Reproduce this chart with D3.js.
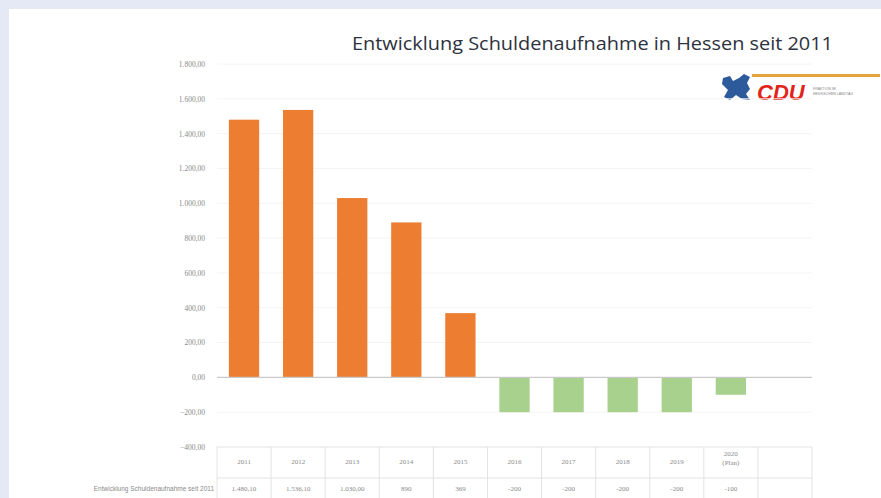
<!DOCTYPE html>
<html>
<head>
<meta charset="utf-8">
<script src="https://cdn.jsdelivr.net/npm/d3@7"></script>
<style>
  body { margin: 0; background: #e4e9f5; }
  svg { display: block; }
</style>
</head>
<body>
<div id="chart"></div>
<script>
// data
const years = ["2011", "2012", "2013", "2014", "2015", "2016", "2017", "2018", "2019", "2020 (Plan)", ""];
const values = [1480.10, 1536.10, 1030.00, 890, 369, -200, -200, -200, -200, -100, null];
const valueLabels = ["1.480,10", "1.536,10", "1.030,00", "890", "369", "-200", "-200", "-200", "-200", "-100", ""];
const yTicks = [-400, -200, 0, 200, 400, 600, 800, 1000, 1200, 1400, 1600, 1800];
const seriesName = "Entwicklung Schuldenaufnahme seit 2011";
const title = "Entwicklung Schuldenaufnahme in Hessen seit 2011";

const width = 881, height = 498;

const de = d3.formatLocale({decimal: ",", thousands: ".", grouping: [3], currency: ["", "€"]});
const fmt = de.format(",.2f");

const svg = d3.select("#chart").append("svg")
  .attr("width", width)
  .attr("height", height);

// white slide panel
svg.append("rect")
  .attr("x", 9).attr("y", 9)
  .attr("width", width - 9).attr("height", height - 9)
  .attr("fill", "#ffffff");

svg.append("text")
  .attr("x", 833).attr("y", 50)
  .attr("text-anchor", "end")
  .style("font-family", "Open Sans")
  .style("font-size", "18px")
  .attr("fill", "#2e3240")
  .attr("textLength", 481)
  .attr("lengthAdjust", "spacingAndGlyphs")
  .text(title);

// logo (rough)
const logo = svg.append("g").attr("transform", "translate(720,72)");
logo.append("rect").attr("x", 32).attr("y", 2).attr("width", 128).attr("height", 3).attr("fill", "#e9a23b");
logo.append("path")
  .attr("d", "M3,6 L10,4 L13,9 L19,6 L24,2 L30,5 L27,11 L30,17 L26,22 L30,28 L22,27 L16,23 L10,28 L4,25 L8,18 L2,12 Z")
  .attr("fill", "#2d5a9a");
logo.append("text")
  .attr("x", 37).attr("y", 28)
  .style("font-family", "Liberation Sans")
  .style("font-weight", "bold")
  .style("font-style", "italic")
  .style("font-size", "22px")
  .attr("fill", "#e2231a")
  .text("CDU");
logo.append("text").attr("x", 93).attr("y", 18)
  .style("font-family", "Liberation Sans").style("font-size", "3.5px").attr("fill", "#888")
  .text("FRAKTION IM");
logo.append("text").attr("x", 93).attr("y", 23)
  .style("font-family", "Liberation Sans").style("font-size", "3.5px").attr("fill", "#888")
  .text("HESSISCHEN LANDTAG");

const x = d3.scaleBand()
  .domain(years)
  .range([217, 812])
  .paddingInner(0.44)
  .paddingOuter(0.22);

const y = d3.scaleLinear()
  .domain([-400, 1800])
  .range([447, 64]);

// grid
svg.append("g")
  .selectAll("line")
  .data(yTicks.filter(t => t !== 0 && t !== -400))
  .join("line")
  .attr("x1", 217).attr("x2", 812)
  .attr("y1", d => y(d)).attr("y2", d => y(d))
  .attr("stroke", "#f4f4f4")
  .attr("stroke-width", 1);

// y axis labels
const yAxis = svg.append("g")
  .attr("transform", "translate(205,0)")
  .call(d3.axisLeft(y).tickValues(yTicks).tickFormat(fmt).tickSize(0).tickPadding(0));
yAxis.select(".domain").remove();
yAxis.selectAll("text")
  .style("font-family", "Liberation Serif")
  .style("font-size", "7.5px")
  .attr("fill", "#8a8a8a");

// bars
svg.append("g")
  .selectAll("rect")
  .data(years.map((yr, i) => ({yr, v: values[i]})).filter(d => d.v !== null))
  .join("rect")
  .attr("x", d => x(d.yr))
  .attr("width", x.bandwidth())
  .attr("y", d => y(Math.max(0, d.v)))
  .attr("height", d => Math.abs(y(d.v) - y(0)))
  .attr("fill", d => d.v >= 0 ? "#ed7d31" : "#a9d18e");

// zero line
svg.append("line")
  .attr("x1", 217).attr("x2", 812)
  .attr("y1", y(0)).attr("y2", y(0))
  .attr("stroke", "#c9c9c9")
  .attr("stroke-width", 1.2);

// data table
const tTop = y(-400), tMid = 478, tBot = height;
const step = x.step();
const colX = years.map(d => x(d) - x.paddingInner() * step / 2);
const table = svg.append("g");
table.append("line").attr("x1", 217).attr("x2", 812).attr("y1", tTop).attr("y2", tTop).attr("stroke", "#e3e3e3");
table.append("line").attr("x1", 217).attr("x2", 812).attr("y1", tMid).attr("y2", tMid).attr("stroke", "#e3e3e3");
table.selectAll("line.v")
  .data(colX.concat([colX[colX.length - 1] + step]))
  .join("line")
  .attr("class", "v")
  .attr("x1", d => d).attr("x2", d => d)
  .attr("y1", tTop).attr("y2", tBot)
  .attr("stroke", "#e3e3e3");

const cellFont = s => s.style("font-family", "Liberation Serif").style("font-size", "7px").attr("fill", "#8a8a8a").attr("text-anchor", "middle");

table.selectAll("text.yr")
  .data(years)
  .join("text")
  .attr("class", "yr")
  .attr("x", d => x(d) + x.bandwidth() / 2)
  .attr("y", d => d.includes("(") ? 456 : 464)
  .call(cellFont)
  .each(function(d) {
    const parts = d.split(" ");
    d3.select(this).selectAll("tspan").data(parts).join("tspan")
      .attr("x", d3.select(this).attr("x"))
      .attr("dy", (p, i) => i === 0 ? 0 : 9)
      .text(p => p);
  });

table.selectAll("text.val")
  .data(valueLabels)
  .join("text")
  .attr("class", "val")
  .attr("x", (d, i) => x(years[i]) + x.bandwidth() / 2)
  .attr("y", 491)
  .call(cellFont)
  .text(d => d);

table.append("text")
  .attr("x", 214).attr("y", 491)
  .attr("text-anchor", "end")
  .style("font-family", "Liberation Sans").style("font-size", "6.5px").attr("fill", "#8a8a8a")
  .text(seriesName);
</script>
</body>
</html>
